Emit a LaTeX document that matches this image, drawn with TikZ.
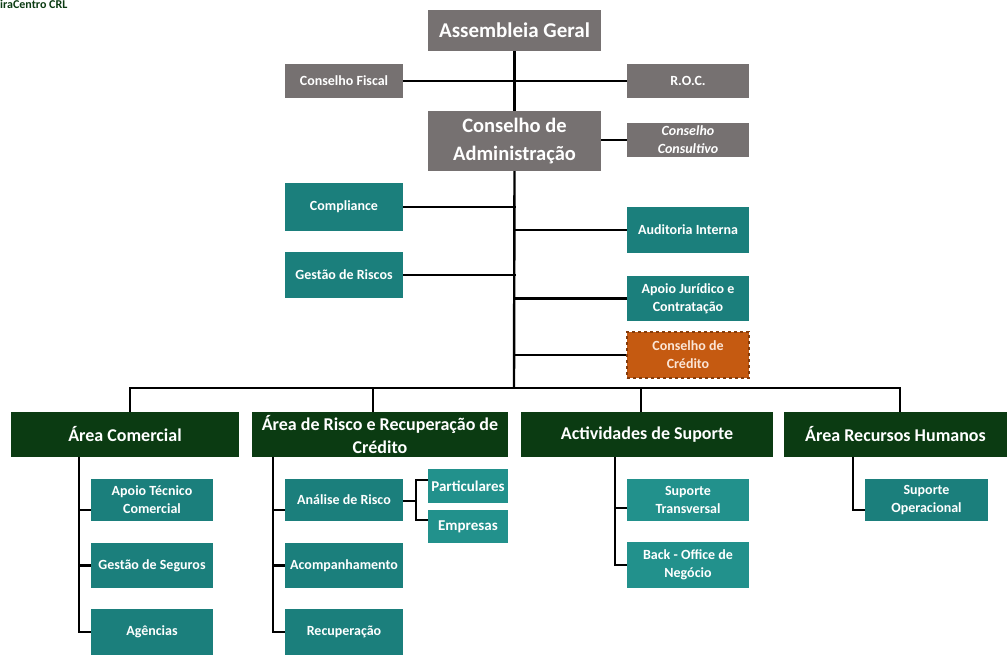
\documentclass[tikz,border=0pt]{standalone}
\usepackage{fontspec}
\setmainfont{Carlito}
\definecolor{grayb}{HTML}{767171}
\definecolor{tealb}{HTML}{1B7F7C}
\definecolor{tealc}{HTML}{22918C}
\definecolor{dgreen}{HTML}{0B3B12}
\definecolor{orangeb}{HTML}{C55A11}
\definecolor{orangel}{HTML}{843C0C}
\definecolor{peach}{HTML}{FBE5D6}
\begin{document}
\begin{tikzpicture}[x=1pt,y=-1pt,
  box/.style={rectangle, inner sep=0pt, align=center, text=white},
  gbox/.style={box, fill=grayb, font=\bfseries\fontsize{14}{18}\selectfont},
  tbox/.style={box, fill=tealb, font=\bfseries\fontsize{14}{18}\selectfont},
  lbox/.style={box, fill=tealc, font=\bfseries\fontsize{14}{18}\selectfont},
  hbox/.style={box, fill=dgreen, font=\bfseries\fontsize{18}{23}\selectfont},
  obox/.style={box, fill=orangeb, text=peach, draw=orangel, dashed, line width=1.2pt, font=\bfseries\fontsize{14}{18}\selectfont},
  link/.style={draw=black, line width=2.4pt}]
\fill[white] (0,0) rectangle (1007,655);
\useasboundingbox (0,0) rectangle (1007,655);
\node[anchor=north west, inner sep=0pt, text=dgreen, font=\bfseries\fontsize{12}{13}\selectfont] (logo) at (0,0) {iraCentro CRL};
% top
\node[gbox, minimum width=173pt, minimum height=41pt, font=\bfseries\fontsize{21}{26}\selectfont] (ag) at (514.5,30.5) {Assembleia Geral};
\node[gbox, minimum width=118pt, minimum height=34pt] (cf) at (344,81) {Conselho Fiscal};
\node[gbox, minimum width=122pt, minimum height=34pt] (roc) at (688,81) {R.O.C.};
\node[gbox, minimum width=173pt, minimum height=60pt, font=\bfseries\fontsize{20.5}{28}\selectfont] (ca) at (514.5,141) {Conselho de\\Administração};
\node[gbox, minimum width=122pt, minimum height=34pt, font=\bfseries\itshape\fontsize{14}{18}\selectfont] (cc) at (688,140) {Conselho\\Consultivo};
\node[tbox, minimum width=118pt, minimum height=48pt] (comp) at (344,207) {Compliance};
\node[tbox, minimum width=118pt, minimum height=46pt] (gr) at (344,275) {Gestão de Riscos};
\node[tbox, minimum width=122pt, minimum height=46pt] (ai) at (688,230) {Auditoria Interna};
\node[tbox, minimum width=122pt, minimum height=45pt] (aj) at (688,298.5) {Apoio Jurídico e\\Contratação};
\node[obox, minimum width=122pt, minimum height=46pt] (ccr) at (688,355) {Conselho de\\Crédito};
% areas
\node[hbox, minimum width=228pt, minimum height=45pt] (ac) at (125,434.5) {Área Comercial};
\node[hbox, minimum width=256pt, minimum height=45pt] (arr) at (380,434.5) {Área de Risco e Recuperação de\\Crédito};
\node[hbox, minimum width=252pt, minimum height=45pt] (as) at (647,434.5) {Actividades de Suporte};
\node[hbox, minimum width=223pt, minimum height=45pt] (arh) at (895.5,434.5) {Área Recursos Humanos};
% sub
\node[tbox, minimum width=122pt, minimum height=42pt] (atc) at (152,500) {Apoio Técnico\\Comercial};
\node[tbox, minimum width=122pt, minimum height=45pt] (gs) at (152,565.5) {Gestão de Seguros};
\node[tbox, minimum width=122pt, minimum height=46pt] (agc) at (152,632) {Agências};
\node[tbox, minimum width=118pt, minimum height=42pt] (anr) at (344,500) {Análise de Risco};
\node[tbox, minimum width=118pt, minimum height=45pt] (acp) at (344,565.5) {Acompanhamento};
\node[tbox, minimum width=118pt, minimum height=46pt] (rec) at (344,632) {Recuperação};
\node[lbox, minimum width=80pt, minimum height=34pt, font=\bfseries\fontsize{15}{18}\selectfont] (part) at (468,486) {Particulares};
\node[lbox, minimum width=80pt, minimum height=33pt, font=\bfseries\fontsize{15}{18}\selectfont] (emp) at (468,526.5) {Empresas};
\node[lbox, minimum width=122pt, minimum height=42pt] (st) at (688,500) {Suporte\\Transversal};
\node[lbox, minimum width=122pt, minimum height=46pt] (bo) at (688,565) {Back - Office de\\Negócio};
\node[tbox, minimum width=123pt, minimum height=42pt] (so) at (926.5,500) {Suporte\\Operacional};
% connectors top
\coordinate (bar) at (514,388);
\draw[link] (ag.south) -- (ca.north);
\draw[link] (cf.east) -- (roc.west);
\draw[link] (ca.east |- cc.west) -- (cc.west);
\draw[link] (ca.south) -- (bar);
\draw[link] (comp.east) -- ([xshift=2pt]comp.east -| bar);
\draw[link] (gr.east) -- ([xshift=2pt]gr.east -| bar);
\draw[link] (ai.west) -- (ai.west -| bar);
\draw[link] (aj.west) -- (aj.west -| bar);
\draw[link] (ccr.west) -- (ccr.west -| bar);
% bar
\coordinate (d1) at (130,388);
\coordinate (d2) at (373,388);
\coordinate (d3) at (641,388);
\coordinate (d4) at (900,388);
\draw[link] (d1 |- ac.north) -- (d1) -- (d4) -- (d4 |- arh.north);
\draw[link] (d2) -- (d2 |- arr.north);
\draw[link] (d3) -- (d3 |- as.north);
% area comercial
\coordinate (t1) at (79,0);
\draw[link] (t1 |- ac.south) -- (t1 |- agc.west) -- (agc.west);
\draw[link] ([yshift=-10pt]atc.west -| t1) -- ([yshift=-10pt]atc.west);
\draw[link] (gs.west -| t1) -- (gs.west);
% area risco
\coordinate (t2) at (273,0);
\draw[link] (t2 |- arr.south) -- (t2 |- rec.west) -- (rec.west);
\draw[link] ([yshift=-10pt]anr.west -| t2) -- ([yshift=-10pt]anr.west);
\draw[link] (acp.west -| t2) -- (acp.west);
\coordinate (k) at (416,501);
\draw[link] ([yshift=-1pt]anr.east) -- (k);
\draw[link] ([yshift=6pt]part.west) -| (k);
\draw[link] (k) |- ([yshift=6.5pt]emp.west);
% suporte
\coordinate (t3) at (615,0);
\draw[link] (t3 |- as.south) -- (t3 |- bo.west) -- (bo.west);
\draw[link] ([yshift=-8pt]st.west -| t3) -- ([yshift=-8pt]st.west);
% RH
\coordinate (t4) at (853,0);
\draw[link] (t4 |- arh.south) |- ([yshift=-10pt]so.west);
\end{tikzpicture}
\end{document}
